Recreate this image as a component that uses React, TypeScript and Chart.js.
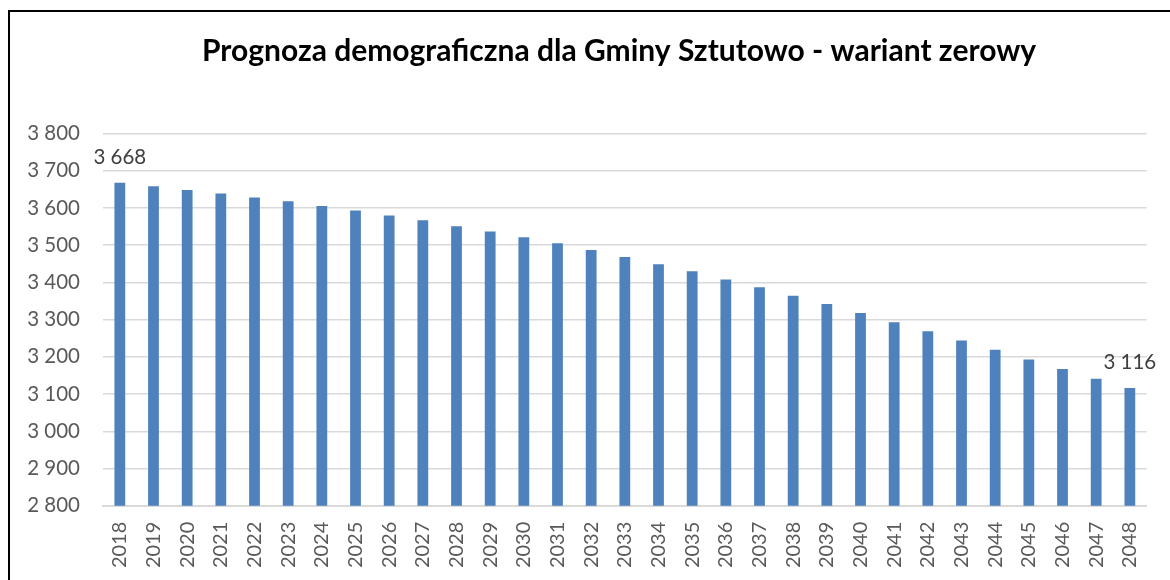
import React, { useEffect, useRef } from "react";
import { Chart, registerables } from "chart.js";

Chart.register(...registerables);

const TITLE = "Prognoza demograficzna dla Gminy Sztutowo - wariant zerowy";
const years = [
  "2018", "2019", "2020", "2021", "2022", "2023", "2024", "2025", "2026", "2027",
  "2028", "2029", "2030", "2031", "2032", "2033", "2034", "2035", "2036", "2037",
  "2038", "2039", "2040", "2041", "2042", "2043", "2044", "2045", "2046", "2047", "2048",
];
const population = [
  3668, 3658, 3648, 3639, 3628, 3618, 3605, 3593, 3580, 3567,
  3551, 3537, 3521, 3505, 3487, 3468, 3449, 3430, 3408, 3387,
  3364, 3342, 3318, 3293, 3269, 3244, 3219, 3193, 3167, 3141, 3116,
];
const labelledIndices = [0, 30];
const yMin = 2800;
const yMax = 3800;
const yStep = 100;

const FONT = "Lato, 'Open Sans', sans-serif";

const fmt = (v: number) => String(Math.round(v)).replace(/\B(?=(\d{3})+(?!\d))/g, " ");

const overlayPlugin = {
  id: "overlay",
  afterDatasetsDraw(chart: any) {
    const ctx = chart.ctx;
    ctx.save();
    // data labels
    const meta = chart.getDatasetMeta(0);
    ctx.font = `20.5px ${FONT}`;
    ctx.fillStyle = "#404040";
    ctx.textAlign = "center";
    ctx.textBaseline = "alphabetic";
    labelledIndices.forEach((i) => {
      const el = meta.data[i];
      if (!el) return;
      ctx.fillText(fmt(population[i]), el.x, el.y - 19);
    });
    // title
    ctx.font = `bold 30px ${FONT}`;
    ctx.fillStyle = "#000000";
    ctx.textAlign = "center";
    ctx.textBaseline = "middle";
    ctx.fillText(TITLE, 619, 51);
    ctx.restore();
  },
};

export default function App() {
  const ref = useRef<HTMLCanvasElement | null>(null);

  useEffect(() => {
    if (!ref.current) return;
    const chart = new Chart(ref.current, {
      type: "bar",
      data: {
        labels: years,
        datasets: [
          {
            data: population,
            backgroundColor: "#4F81BD",
            borderWidth: 0,
            barPercentage: 0.32,
            categoryPercentage: 1,
          },
        ],
      },
      options: {
        responsive: false,
        animation: false,
        layout: { padding: { top: 133.5, right: 10, bottom: 0, left: 0 } },
        plugins: {
          legend: { display: false },
          title: { display: false },
          tooltip: { enabled: false },
        },
        scales: {
          x: {
            grid: { display: false, drawTicks: false },
            border: { display: true, color: "#D9D9D9", width: 2 },
            ticks: {
              minRotation: 90,
              maxRotation: 90,
              autoSkip: false,
              padding: 16,
              color: "#595959",
              font: { family: FONT, size: 20 },
            },
            afterFit: (scale: any) => {
              scale.height = 74.3;
            },
          },
          y: {
            min: yMin,
            max: yMax,
            grid: { color: "#D9D9D9", lineWidth: 1.5, drawTicks: false },
            border: { display: false },
            ticks: {
              stepSize: yStep,
              padding: 23,
              color: "#595959",
              font: { family: FONT, size: 20.5 },
              callback: (v: any) => fmt(Number(v)),
            },
            afterFit: (scale: any) => {
              scale.width = 103;
            },
          },
        },
      },
      plugins: [overlayPlugin],
    });
    return () => chart.destroy();
  }, []);

  return (
    <div style={{ position: "absolute", left: 0, top: 0, width: 1170, height: 580, overflow: "hidden", background: "#ffffff" }}>
      <canvas ref={ref} width={1170} height={580} style={{ position: "absolute", left: 0, top: 0, width: 1170, height: 580 }} />
      <div
        style={{
          position: "absolute",
          left: 8,
          top: 10,
          width: 1300,
          height: 700,
          borderLeft: "2px solid #000",
          borderTop: "2px solid #000",
          pointerEvents: "none",
        }}
      />
    </div>
  );
}
